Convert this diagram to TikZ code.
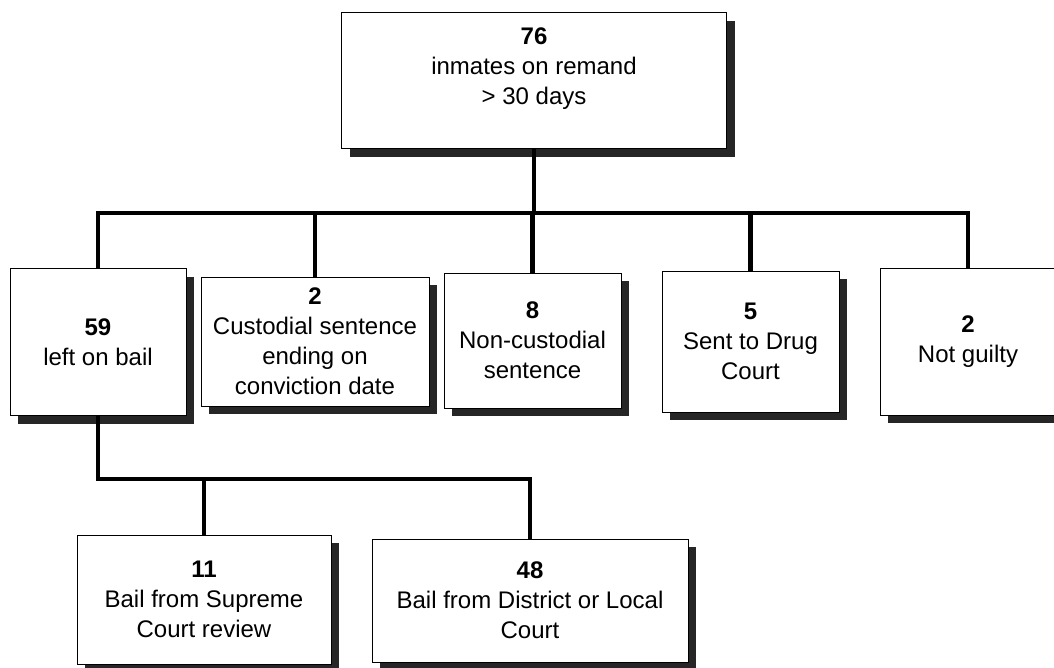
\documentclass[tikz,border=0pt]{standalone}
\usepackage{fontspec}
\setmainfont{Liberation Sans}
\usetikzlibrary{shadows}
\tikzset{
  box/.style={draw, line width=1pt, fill=white, align=center, inner sep=2pt,
    font=\fontsize{24}{30}\selectfont,
    general shadow={fill=black!85, shadow xshift=8pt, shadow yshift=-8pt}},
  conn/.style={line width=4.5pt}
}

\begin{document}
\begin{tikzpicture}[x=1pt,y=-1pt]
\useasboundingbox (0,0) rectangle (1054,668);

\node[box, minimum width=385pt, minimum height=136pt] (remand) at (534,81)
  {\textbf{76}\\inmates on remand\\> 30 days\\[0pt]\mbox{}};

\node[box, minimum width=176pt, minimum height=147pt] (bail) at (98,342)
  {\textbf{59}\\left on bail};
\node[box, minimum width=228pt, minimum height=129pt] (custodial) at (315,341.5)
  {\textbf{2}\\Custodial sentence\\ending on\\conviction date};
\node[box, minimum width=177pt, minimum height=135pt] (noncust) at (532.5,340.5)
  {\textbf{8}\\Non-custodial\\sentence};
\node[box, minimum width=177pt, minimum height=141pt] (drug) at (750.5,341.5)
  {\textbf{5}\\Sent to Drug\\Court};
\node[box, minimum width=176pt, minimum height=147pt] (guilty) at (968,341.5)
  {\textbf{2}\\Not guilty};

\node[box, minimum width=254pt, minimum height=129pt] (supreme) at (204,599.5)
  {\textbf{11}\\Bail from Supreme\\Court review};
\node[box, minimum width=316pt, minimum height=123pt] (district) at (530,600.5)
  {\textbf{48}\\Bail from District or Local\\Court};

\coordinate (bus) at (0,213);
\coordinate (lowbus) at (0,479);

% first split
\draw[conn] (remand.south) -- (remand.south |- bus);
\draw[conn] (bail.north) |- (bus -| guilty.north) -- (guilty.north);
\foreach \n in {custodial,noncust,drug}
  \draw[conn] (bus -| \n.north) -- (\n.north);

% bail split
\draw[conn] (bail.south) |- (lowbus -| district.north) -- (district.north);
\draw[conn] (lowbus -| supreme.north) -- (supreme.north);
\end{tikzpicture}
\end{document}
